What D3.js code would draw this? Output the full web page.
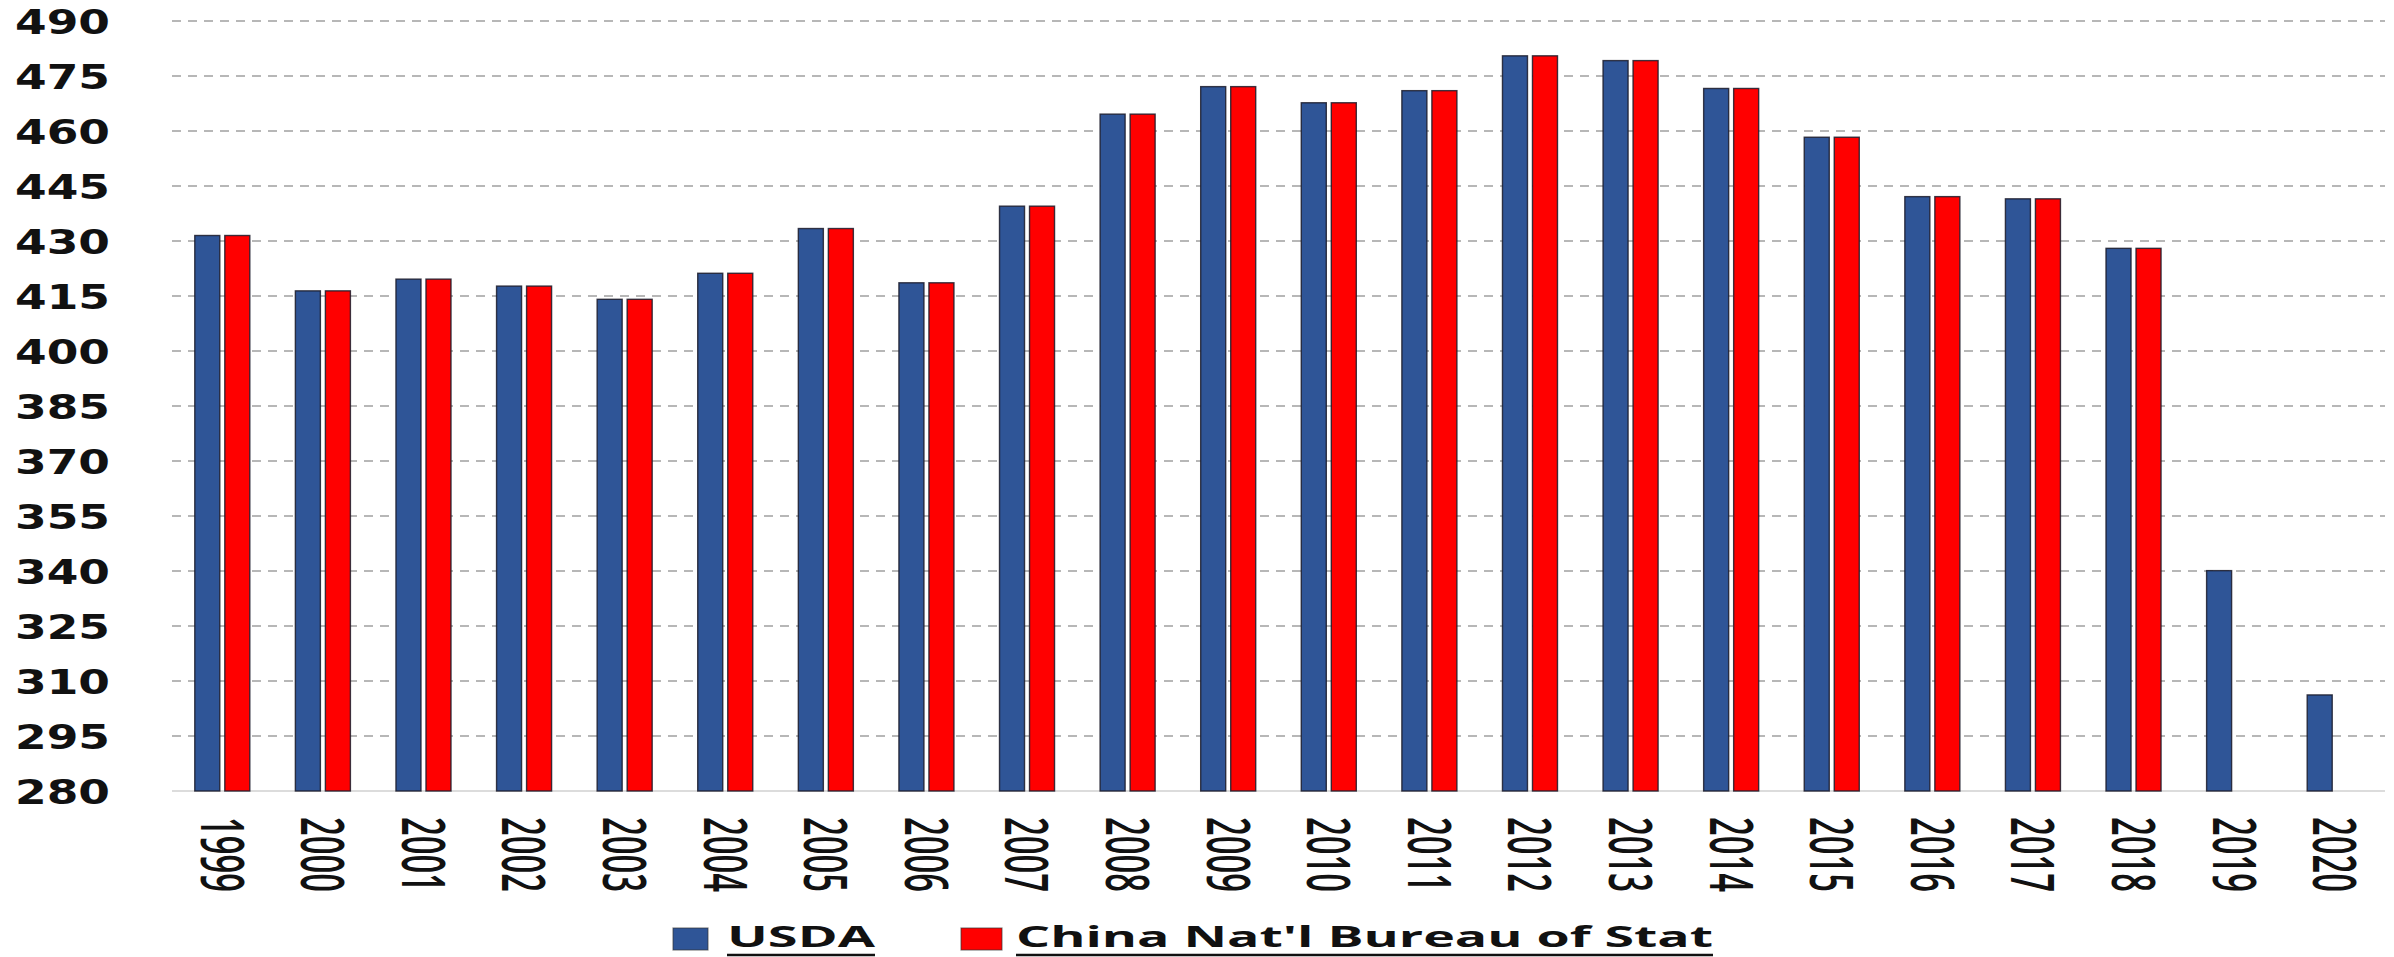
<!DOCTYPE html>
<html>
<head>
<meta charset="utf-8">
<script src="https://cdn.jsdelivr.net/npm/d3@7"></script>
<style>
  html, body { margin: 0; padding: 0; background: #ffffff; }
  svg { display: block; }
</style>
</head>
<body>
<svg id="chart" width="2394" height="957"></svg>
<script>
// ---- data ----
const years = ["1999","2000","2001","2002","2003","2004","2005","2006","2007","2008","2009",
               "2010","2011","2012","2013","2014","2015","2016","2017","2018","2019","2020"];
const usda = [431.5, 416.4, 419.6, 417.7, 414.1, 421.2, 433.4, 418.6, 439.5, 464.6, 472.1,
              467.7, 471.0, 480.5, 479.2, 471.6, 458.3, 442.1, 441.5, 428.0, 340.1, 306.2];
const china = [431.5, 416.4, 419.6, 417.7, 414.1, 421.2, 433.4, 418.6, 439.5, 464.6, 472.1,
               467.7, 471.0, 480.5, 479.2, 471.6, 458.3, 442.1, 441.5, 428.0, null, null];
const seriesNames = ["USDA", "China Nat'l Bureau of Stat"];
const seriesColors = ["#2f5597", "#ff0000"];
const yTicks = [280, 295, 310, 325, 340, 355, 370, 385, 400, 415, 430, 445, 460, 475, 490];

(function () {
// ---- layout ----
const svg = d3.select("#chart");
const plotL = 172, plotR = 2385, plotT = 21, plotB = 791;

const x = d3.scaleBand().domain(years).range([plotL, plotR]).paddingInner(0.453).paddingOuter(0.2265);
const xs = d3.scaleBand().domain(seriesNames).range([0, x.bandwidth()]).paddingInner(0.1667);
const y = d3.scaleLinear().domain([280, 490]).range([plotB, plotT]);

// gridlines
svg.append("g").selectAll("line")
  .data(yTicks.filter(t => t !== 280))
  .join("line")
  .attr("x1", plotL).attr("x2", plotR)
  .attr("y1", d => y(d)).attr("y2", d => y(d))
  .attr("stroke", "#a0a0a0").attr("stroke-width", 1.6)
  .attr("stroke-dasharray", "9,7");

// baseline
svg.append("line")
  .attr("x1", plotL).attr("x2", plotR)
  .attr("y1", y(280)).attr("y2", y(280))
  .attr("stroke", "#d0d0d0").attr("stroke-width", 1.5);

// y labels
const yAxis = d3.axisLeft(y).tickValues(yTicks).tickSize(0).tickFormat(d3.format("d"));
const yg = svg.append("g").attr("transform", "translate(110,0)").call(yAxis);
yg.select(".domain").remove();
yg.selectAll("text")
  .attr("x", -95).attr("dy", "0.36em")
  .attr("text-anchor", "start")
  .attr("fill", "#111")
  .style("font-family", "'DejaVu Sans', Verdana, sans-serif")
  .style("font-weight", "bold")
  .style("font-size", "34px")
  .attr("textLength", 95)
  .attr("lengthAdjust", "spacingAndGlyphs");

// bars
const data = years.map((yr, i) => ({ year: yr, values: [usda[i], china[i]] }));
const groups = svg.append("g").selectAll("g")
  .data(data).join("g")
  .attr("transform", d => `translate(${x(d.year)},0)`);
groups.selectAll("rect")
  .data(d => d.values.map((v, j) => ({ v, s: seriesNames[j], c: seriesColors[j] })).filter(e => e.v != null))
  .join("rect")
  .attr("x", e => xs(e.s))
  .attr("width", xs.bandwidth())
  .attr("y", e => y(e.v))
  .attr("height", e => y(280) - y(e.v))
  .attr("fill", e => e.c)
  .attr("stroke", "#1b1b2a").attr("stroke-width", 1.4).attr("stroke-opacity", 0.85);

// x labels (rotated)
const xAxis = d3.axisBottom(x).tickSize(0);
const xg = svg.append("g").attr("transform", `translate(0,${plotB})`).call(xAxis);
xg.select(".domain").remove();
xg.selectAll("text")
  .attr("transform", "rotate(90)")
  .attr("x", 26).attr("y", 0).attr("dy", "0.36em")
  .attr("text-anchor", "start")
  .attr("fill", "#111")
  .style("font-family", "'Open Sans', sans-serif")
  .style("font-weight", "600")
  .style("font-size", "60px")
  .attr("textLength", 75)
  .attr("lengthAdjust", "spacingAndGlyphs");

// legend
const legendItems = [
  { name: seriesNames[0], color: seriesColors[0], sx: 673, sw: 35, tx: 727, tw: 148 },
  { name: seriesNames[1], color: seriesColors[1], sx: 961, sw: 41, tx: 1016, tw: 697 }
];
const lg = svg.append("g");
lg.selectAll("rect").data(legendItems).join("rect")
  .attr("x", d => d.sx).attr("y", 928)
  .attr("width", d => d.sw).attr("height", 22)
  .attr("fill", d => d.color)
  .attr("stroke", "#333").attr("stroke-width", 1.2).attr("stroke-opacity", 0.6);
lg.selectAll("text").data(legendItems).join("text")
  .attr("x", d => d.tx).attr("y", 947)
  .attr("fill", "#111")
  .style("font-family", "'Open Sans', sans-serif")
  .style("font-weight", "bold")
  .style("font-size", "28px")
  .attr("textLength", d => d.tw)
  .attr("lengthAdjust", "spacingAndGlyphs")
  .text(d => d.name);
lg.selectAll("line").data(legendItems).join("line")
  .attr("x1", d => d.tx).attr("x2", d => d.tx + d.tw)
  .attr("y1", 955).attr("y2", 955)
  .attr("stroke", "#111").attr("stroke-width", 2.5);
})();
</script>
</body>
</html>
